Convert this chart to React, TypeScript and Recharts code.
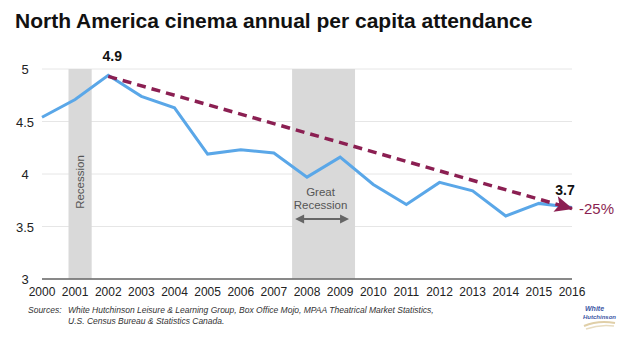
import React from "react";
import {
  LineChart,
  Line,
  XAxis,
  YAxis,
  CartesianGrid,
  ReferenceArea,
} from "recharts";

const years = [2000, 2001, 2002, 2003, 2004, 2005, 2006, 2007, 2008, 2009, 2010, 2011, 2012, 2013, 2014, 2015, 2016];
const attendance = [4.54, 4.71, 4.94, 4.74, 4.63, 4.19, 4.23, 4.2, 3.97, 4.16, 3.9, 3.71, 3.92, 3.84, 3.6, 3.72, 3.68];

// dashed trend arrow: from the 2002 peak to 2016
const trendYears = [2002, 2016];
const trendValues = [4.93, 3.67];

// recessions, shaded bands (fractional years)
const recessionStarts = [2000.8, 2007.55];
const recessionEnds = [2001.5, 2009.45];
const recessionNames = ["Recession", "Great Recession"];

const yTicks = [3, 3.5, 4, 4.5, 5];
const peakLabel = "4.9";
const endLabel = "3.7";
const changeLabel = "-25%";

const W = 624;
const H = 338;
const MARGIN = { top: 69, right: 52, bottom: 0, left: 0 };
const Y_AXIS_W = 42;
const X_AXIS_H = 59;
const FONT = '"Liberation Sans", Arial, Helvetica, sans-serif';
const BLUE = "#5aa7e8";
const MAROON = "#8b1f52";

const data = years.map((year, i) => {
  const t = trendYears.indexOf(year);
  return { year, attendance: attendance[i], trend: t >= 0 ? trendValues[t] : null };
});

// angle of the trend line on screen, for the arrow head
const plotW = W - MARGIN.right - Y_AXIS_W;
const plotH = H - MARGIN.top - X_AXIS_H;
const pxYear = plotW / (years[years.length - 1] - years[0]);
const pxUnit = plotH / (yTicks[yTicks.length - 1] - yTicks[0]);
const trendAngle =
  (Math.atan2(
    (trendValues[0] - trendValues[1]) * pxUnit,
    (trendYears[1] - trendYears[0]) * pxYear
  ) * 180) / Math.PI;

const YTick = ({ y, payload }: any) => (
  <text x={25} y={y} dy={5} textAnchor="middle" fontSize={13} fill="#222" fontFamily={FONT}>
    {payload.value}
  </text>
);

const ArrowDot = (props: any) => {
  const { cx, cy, index } = props;
  if (index !== years.length - 1 || cx == null || cy == null) return <g key={`ad-${index}`} />;
  return (
    <g key={`ad-${index}`} transform={`translate(${cx},${cy}) rotate(${trendAngle})`}>
      <polygon points="1,0 -17,-8 -13,0 -17,8" fill={MAROON} />
    </g>
  );
};

const PeakText = (props: any) => {
  const { x, y, index } = props;
  if (index !== 2) return <g key={`pk-${index}`} />;
  return (
    <text key={`pk-${index}`} x={x + 4} y={y - 14} textAnchor="middle" fontSize={14} fontWeight="bold" fill="#111" fontFamily={FONT}>
      {peakLabel}
    </text>
  );
};

const TrendText = (props: any) => {
  const { x, y, index } = props;
  if (index !== years.length - 1 || y == null) return <g key={`tt-${index}`} />;
  return (
    <g key={`tt-${index}`}>
      <text x={x - 7} y={y - 14} textAnchor="middle" fontSize={14} fontWeight="bold" fill="#111" fontFamily={FONT}>
        {endLabel}
      </text>
      <text x={x + 7} y={y} dy="0.36em" textAnchor="start" fontSize={15} fill={MAROON} fontFamily={FONT}>
        {changeLabel}
      </text>
    </g>
  );
};

const ShortRecessionLabel = ({ viewBox }: any) => {
  if (!viewBox) return null;
  const cx = viewBox.x + viewBox.width / 2;
  const cy = viewBox.y + 113;
  return (
    <text x={cx} y={cy} dy="0.35em" transform={`rotate(-90 ${cx} ${cy})`} textAnchor="middle" fontSize={11.5} fill="#555" fontFamily={FONT}>
      {recessionNames[0]}
    </text>
  );
};

const GreatRecessionLabel = ({ viewBox }: any) => {
  if (!viewBox) return null;
  const cx = viewBox.x + viewBox.width / 2 - 3;
  const top = viewBox.y;
  const [w1, w2] = recessionNames[1].split(" ");
  const x1 = viewBox.x + 3;
  const x2 = viewBox.x + viewBox.width - 6;
  const ay = top + 150;
  return (
    <g fontFamily={FONT} fontSize={11.5} fill="#555">
      <text x={cx} y={top + 123} dy="0.35em" textAnchor="middle">{w1}</text>
      <text x={cx} y={top + 136} dy="0.35em" textAnchor="middle">{w2}</text>
      <line x1={x1 + 6} y1={ay} x2={x2 - 6} y2={ay} stroke="#666" strokeWidth={2} />
      <polygon points={`${x1},${ay} ${x1 + 9},${ay - 4.5} ${x1 + 9},${ay + 4.5}`} fill="#666" />
      <polygon points={`${x2},${ay} ${x2 - 9},${ay - 4.5} ${x2 - 9},${ay + 4.5}`} fill="#666" />
    </g>
  );
};

const noteStyle: React.CSSProperties = {
  position: "absolute",
  top: 305,
  fontSize: 8.5,
  lineHeight: "11px",
  fontStyle: "italic",
  color: "#333",
  whiteSpace: "nowrap",
};

export default function App() {
  return (
    <div
      style={{
        position: "absolute",
        left: 0,
        top: 0,
        width: W,
        height: H,
        background: "#fff",
        fontFamily: FONT,
        overflow: "hidden",
      }}
    >
      <LineChart width={W} height={H} data={data} margin={MARGIN}>
        <CartesianGrid vertical={false} stroke="#e6e6e6" />
        <ReferenceArea
          x1={recessionStarts[0]}
          x2={recessionEnds[0]}
          y1={3}
          y2={5}
          fill="#d9d9d9"
          fillOpacity={1}
          stroke="none"
          label={<ShortRecessionLabel />}
        />
        <ReferenceArea
          x1={recessionStarts[1]}
          x2={recessionEnds[1]}
          y1={3}
          y2={5}
          fill="#d9d9d9"
          fillOpacity={1}
          stroke="none"
          label={<GreatRecessionLabel />}
        />
        <XAxis
          dataKey="year"
          type="number"
          domain={[2000, 2016]}
          ticks={years}
          interval={0}
          height={X_AXIS_H}
          axisLine={{ stroke: "#666", strokeWidth: 1.5 }}
          tickLine={false}
          tickMargin={2}
          tick={{ fontSize: 12, fill: "#222", fontFamily: FONT }}
        />
        <YAxis
          domain={[3, 5]}
          ticks={yTicks}
          width={Y_AXIS_W}
          axisLine={false}
          tickLine={false}
          tick={<YTick />}
        />
        <Line
          dataKey="attendance"
          stroke={BLUE}
          strokeWidth={3}
          dot={false}
          isAnimationActive={false}
          label={<PeakText />}
        />
        <Line
          dataKey="trend"
          stroke={MAROON}
          strokeWidth={3.5}
          strokeDasharray="9 6"
          connectNulls
          dot={<ArrowDot />}
          activeDot={false}
          isAnimationActive={false}
          label={<TrendText />}
        />
      </LineChart>

      <div
        style={{
          position: "absolute",
          left: 15,
          top: 10,
          fontSize: 21,
          lineHeight: "21px",
          fontWeight: "bold",
          color: "#111",
          whiteSpace: "nowrap",
        }}
      >
        North America cinema annual per capita attendance
      </div>

      <div style={{ ...noteStyle, left: 28 }}>Sources:</div>
      <div style={{ ...noteStyle, left: 68 }}>
        White Hutchinson Leisure &amp; Learning Group, Box Office Mojo, MPAA Theatrical Market Statistics,
        <br />
        U.S. Census Bureau &amp; Statistics Canada.
      </div>

      <svg style={{ position: "absolute", left: 580, top: 302 }} width={42} height={30}>
        <text x={5} y={9} fontSize={7} fontStyle="italic" fontWeight="bold" fill="#3b55a4" fontFamily={FONT}>
          White
        </text>
        <text x={3} y={17} fontSize={6} fontStyle="italic" fontWeight="bold" fill="#3b55a4" fontFamily={FONT}>
          Hutchinson
        </text>
        <path d="M4 24 Q 18 18 35 21" stroke="#e0cfa8" strokeWidth={2} fill="none" />
        <path d="M6 27 Q 20 22 34 24" stroke="#e8dcc0" strokeWidth={1.5} fill="none" />
      </svg>
    </div>
  );
}
